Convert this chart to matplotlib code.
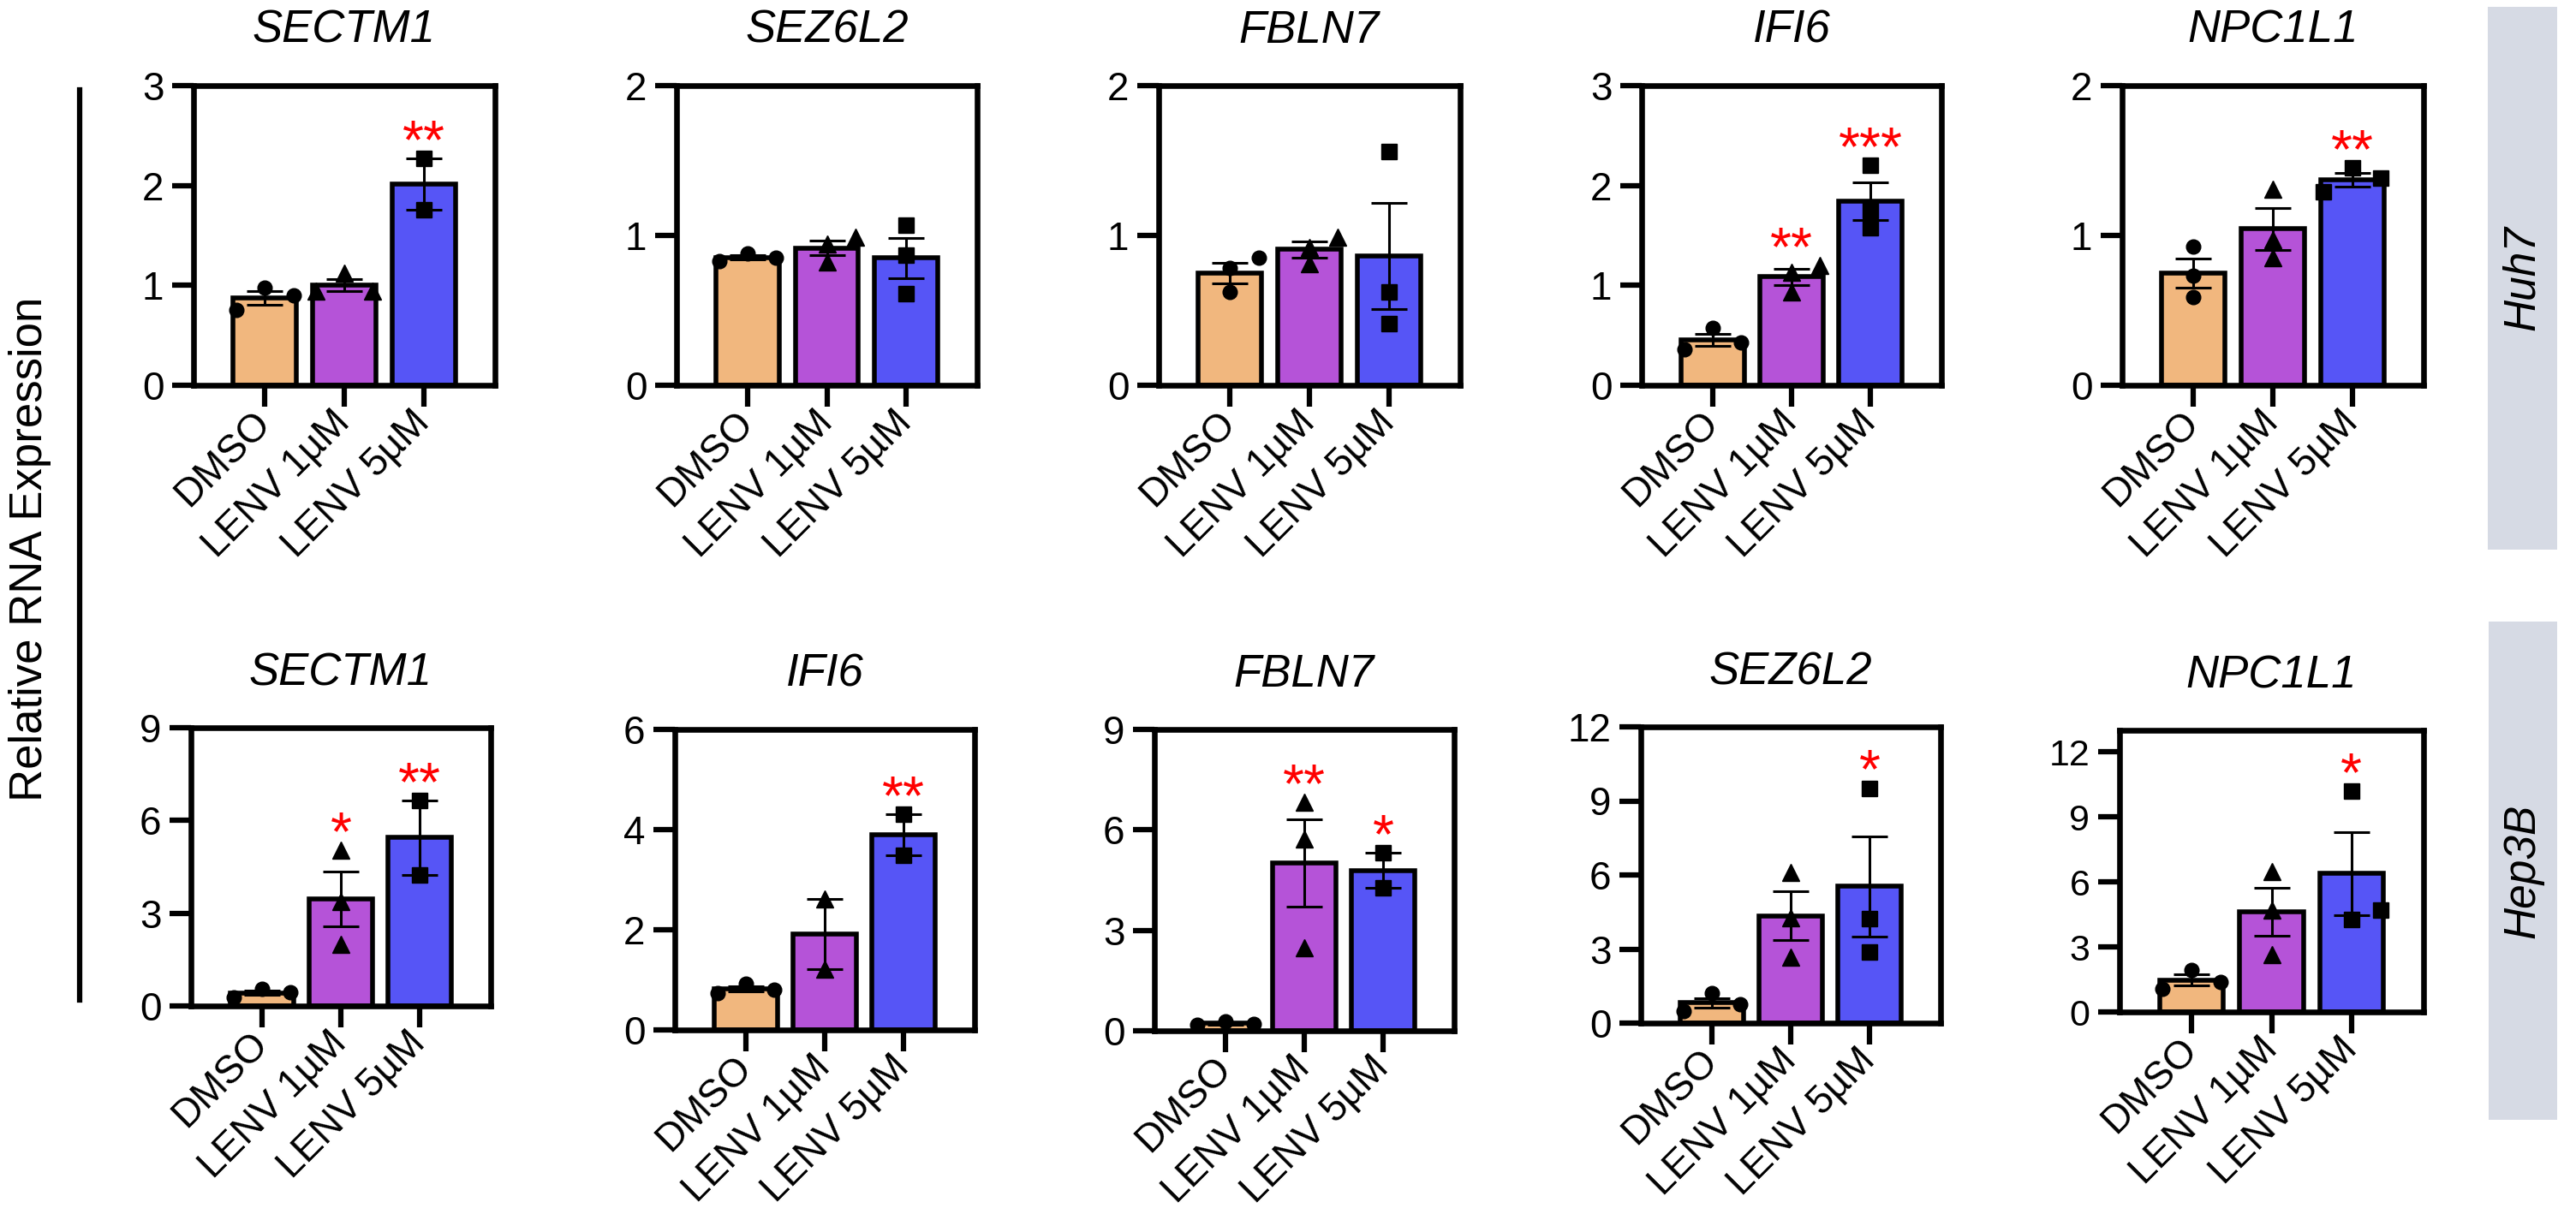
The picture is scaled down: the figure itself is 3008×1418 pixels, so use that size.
import numpy as np
import matplotlib
matplotlib.use("Agg")
import matplotlib.pyplot as plt
from matplotlib.patches import Rectangle
from matplotlib.lines import Line2D

plt.rcParams['font.family'] = ['Liberation Sans', 'DejaVu Sans']

# ---------------- data ----------------
groups = ["DMSO", "LENV 1µM", "LENV 5µM"]
bar_colors = ["#F1B77E", "#B553D8", "#5655F6"]
markers = ["o", "^", "s"]

cell_lines = ["Huh7", "Hep3B"]
huh7_genes = ["SECTM1", "SEZ6L2", "FBLN7", "IFI6", "NPC1L1"]
hep3b_genes = ["SECTM1", "IFI6", "FBLN7", "SEZ6L2", "NPC1L1"]

# replicate values per group: DMSO, LENV 1µM, LENV 5µM
huh7_sectm1 = [[0.98, 0.90, 0.75], [1.12, 0.94, 0.94], [2.27, 1.76]]
huh7_sez6l2 = [[0.88, 0.85, 0.83], [0.99, 0.94, 0.82], [1.07, 0.87, 0.61]]
huh7_fbln7 = [[0.85, 0.78, 0.62], [0.99, 0.92, 0.81], [1.56, 0.62, 0.41]]
huh7_ifi6 = [[0.57, 0.43, 0.36], [1.20, 1.13, 0.93], [2.20, 1.75, 1.58]]
huh7_npc1l1 = [[0.925, 0.73, 0.59], [1.31, 0.97, 0.85], [1.45, 1.38, 1.29]]

hep3b_sectm1 = [[0.55, 0.45, 0.28], [5.04, 3.38, 1.99], [6.65, 4.24]]
hep3b_ifi6 = [[0.93, 0.80, 0.74], [2.62, 1.22], [4.30, 3.48]]
hep3b_fbln7 = [[0.28, 0.20, 0.18], [6.82, 5.74, 2.49], [5.31, 4.26]]
hep3b_sez6l2 = [[1.20, 0.75, 0.50], [6.12, 4.26, 2.66], [9.52, 4.22, 2.87]]
hep3b_npc1l1 = [[1.94, 1.39, 1.07], [6.50, 4.72, 2.66], [10.2, 4.72, 4.25]]

huh7_values = [huh7_sectm1, huh7_sez6l2, huh7_fbln7, huh7_ifi6, huh7_npc1l1]
hep3b_values = [hep3b_sectm1, hep3b_ifi6, hep3b_fbln7, hep3b_sez6l2, hep3b_npc1l1]

huh7_sig = [["", "", "**"], ["", "", ""], ["", "", ""], ["", "**", "***"], ["", "", "**"]]
hep3b_sig = [["", "*", "**"], ["", "", "**"], ["", "**", "*"], ["", "", "*"], ["", "", "*"]]

huh7_ymax = [3, 2, 2, 3, 2]
huh7_ytickmax = [3, 2, 2, 3, 2]
huh7_ystep = [1, 1, 1, 1, 1]
hep3b_ymax = [9, 6, 9, 12, 13]
hep3b_ytickmax = [9, 6, 9, 12, 12]
hep3b_ystep = [3, 2, 3, 3, 3]

ylabel = "Relative RNA Expression"

# ---------------- layout (pixels) ----------------
W, H = 3008, 1418
# (left, top, right, bottom) of each axes box in pixels
top_boxes = [(226, 100, 578, 450), (790, 100, 1141, 450), (1353, 100, 1705, 450),
             (1917, 100, 2267, 450), (2478, 100, 2830, 450)]
bot_boxes = [(223, 850, 573, 1175), (788, 852, 1138, 1203), (1348, 852, 1698, 1204),
             (1916, 849, 2266, 1195), (2475, 853, 2830, 1182)]
strip_boxes = [(2905, 8, 2986, 642), (2906, 726, 2986, 1308)]

fig = plt.figure(figsize=(W / 100, H / 100), dpi=100)
fig.patch.set_facecolor("white")

XLIM = (-0.9, 2.9)
SPREAD = 0.36
LW_SPINE = 4.75


def spread_offsets(vals, ppu, thr=18.5):
    vals = np.asarray(vals, dtype=float)
    order = list(np.argsort(-vals, kind="stable"))
    offs = np.zeros(len(vals))
    clusters = []
    cur = [order[0]]
    for i in order[1:]:
        if (vals[cur[-1]] - vals[i]) * ppu < thr:
            cur.append(i)
        else:
            clusters.append(cur)
            cur = [i]
    clusters.append(cur)
    for c in clusters:
        if len(c) == 2:
            if abs(vals[c[0]] - vals[c[1]]) * ppu < 3:
                slots = [-1, 1]
            else:
                slots = [1, 0]
        elif len(c) >= 3:
            slots = [0, 1, -1] + [0] * (len(c) - 3)
        else:
            slots = [0]
        for idx, s in zip(c, slots):
            offs[idx] = s * SPREAD
    return offs


def draw_panel(box, title, reps, sig, ymax, ytickmax, ystep, tick_fs=33):
    l, t, r, b = box
    ax = fig.add_axes([l / W, 1 - b / H, (r - l) / W, (b - t) / H])
    x = np.arange(len(groups))
    means = np.array([np.mean(v) for v in reps])
    sems = np.array([np.std(v, ddof=1) / np.sqrt(len(v)) for v in reps])
    ax.bar(x, means, width=0.8, color=bar_colors, edgecolor="black",
           linewidth=4.0, zorder=1)
    ax.errorbar(x, means, yerr=sems, fmt="none", ecolor="black",
                elinewidth=2.2, capsize=15, capthick=2.2, zorder=2)
    ax.set_xlim(*XLIM)
    ax.set_ylim(0, ymax)
    ppu = (b - t) / ymax
    msize = {"o": 12, "^": 14, "s": 13}
    for i, v in enumerate(reps):
        offs = spread_offsets(v, ppu)
        ax.plot(x[i] + offs, v, linestyle="none", marker=markers[i],
                markersize=msize[markers[i]],
                color="black", zorder=3, clip_on=False)
        if sig[i]:
            top = max(max(v), means[i] + sems[i])
            ax.annotate(sig[i], (x[i], top), xytext=(0, 0),
                        textcoords="offset points", ha="center",
                        va="baseline", color="#FF0000", fontsize=46)
    ticks = np.arange(0, ytickmax + 0.001, ystep)
    ax.set_yticks(ticks)
    ax.set_yticklabels([f"{int(v)}" for v in ticks])
    ax.set_xticks(x)
    ax.set_xticklabels(groups, rotation=45, ha="right", va="center",
                       rotation_mode="anchor")
    ax.tick_params(axis="y", length=18, width=4.5, labelsize=tick_fs, pad=7)
    ax.tick_params(axis="x", length=18, width=4.5, labelsize=33, pad=9)
    for sp in ax.spines.values():
        sp.set_linewidth(LW_SPINE)
    ax.set_title(title, fontstyle="italic", fontsize=38, pad=36)
    return ax


for k in range(5):
    draw_panel(top_boxes[k], huh7_genes[k], huh7_values[k], huh7_sig[k],
               huh7_ymax[k], huh7_ytickmax[k], huh7_ystep[k])
for k in range(5):
    draw_panel(bot_boxes[k], hep3b_genes[k], hep3b_values[k], hep3b_sig[k],
               hep3b_ymax[k], hep3b_ytickmax[k], hep3b_ystep[k],
               tick_fs=33 if k < 4 else 31)

# strips with cell line names
for (l, t, r, b), name in zip(strip_boxes, cell_lines):
    fig.patches.append(Rectangle((l / W, 1 - b / H), (r - l) / W, (b - t) / H,
                                 transform=fig.transFigure, facecolor="#D6DAE4",
                                 edgecolor="none", zorder=0))
    fig.text((l + r) / 2 / W, 1 - (t + b) / 2 / H, name, rotation=90,
             ha="center", va="center", fontsize=37, fontstyle="italic")

# shared y label and bracket line
fig.text(35 / W, 1 - 641 / H, ylabel, rotation=90, ha="center", va="center",
         fontsize=38)
fig.add_artist(Line2D([93 / W, 93 / W], [1 - 105 / H, 1 - 1168 / H],
                      transform=fig.transFigure, color="black", linewidth=4.5))

fig.savefig("out.png", dpi=100, facecolor="white")
